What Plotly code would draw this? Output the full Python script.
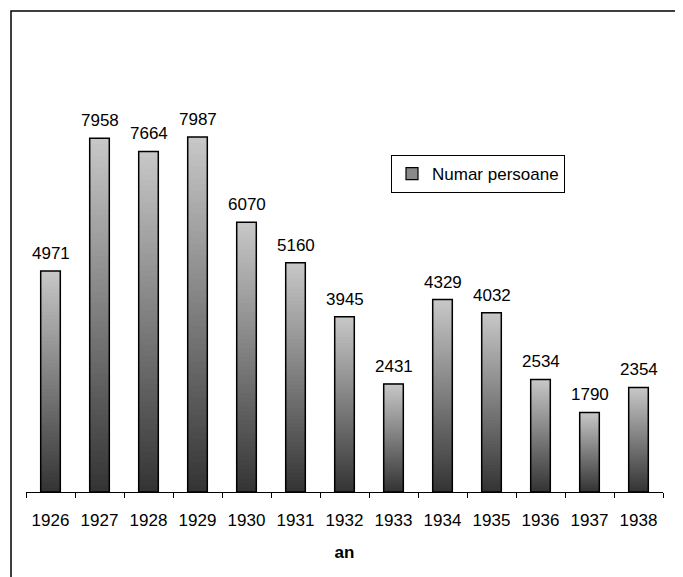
import plotly.graph_objects as go

years = ["1926", "1927", "1928", "1929", "1930", "1931", "1932",
         "1933", "1934", "1935", "1936", "1937", "1938"]
persons = [4971, 7958, 7664, 7987, 6070, 5160, 3945,
           2431, 4329, 4032, 2534, 1790, 2354]
series_name = "Numar persoane"
axis_title = "an"

FONT = "Liberation Sans, Arial, sans-serif"
FS = 17
# page body has an 8px margin; figure sized to fit the window
W, H = 675, 569
L, R, T, B = 18, 20, 84, 85

fig = go.Figure()

# vertical gradient via overlapping slices (dark bottom -> light top)
N = 60
dark, light = (0x33, 0x33, 0x33), (0xC8, 0xC8, 0xC8)
for k in range(N):
    f = (k + 0.5) / N
    c = tuple(int(round(dark[i] + (light[i] - dark[i]) * f)) for i in range(3))
    fig.add_trace(go.Bar(
        x=years,
        y=[v * (1 - k / N) for v in persons],
        base=[v * k / N for v in persons],
        marker=dict(color="rgb(%d,%d,%d)" % c, line=dict(width=0)),
        showlegend=False, hoverinfo="skip", width=0.4,
    ))

# outline
fig.add_trace(go.Bar(
    x=years, y=persons,
    marker=dict(color="rgba(0,0,0,0)", line=dict(color="black", width=1.5)),
    showlegend=False, width=0.4,
))

# legend entry
fig.add_trace(go.Bar(
    x=[years[0]], y=[None], name=series_name,
    marker=dict(color="#8a8a8a", line=dict(color="black", width=1.2)),
    showlegend=True,
))

for i, v in enumerate(persons):
    fig.add_annotation(x=i, y=v, text=str(v), showarrow=False,
                       yanchor="bottom", yshift=6,
                       font=dict(family=FONT, size=FS, color="black"))

pw = W - L - R
ph = H - T - B
fig.add_shape(type="rect", xref="paper", yref="paper",
              x0=(3 - L) / pw, x1=(W + 20 - L) / pw,
              y0=-(H + 20 - (T + ph)) / ph, y1=(T + ph - 3) / ph,
              line=dict(color="black", width=1.5), layer="above")

fig.update_layout(
    width=W, height=H,
    margin=dict(l=L, r=R, t=T, b=B, pad=0),
    paper_bgcolor="white", plot_bgcolor="white",
    barmode="overlay", bargap=0.6,
    font=dict(family=FONT, size=FS, color="black"),
    showlegend=True,
    legend=dict(x=(383 - L) / pw, y=(T + ph - 147) / ph,
                xanchor="left", yanchor="top",
                bordercolor="black", borderwidth=1, bgcolor="white",
                font=dict(family=FONT, size=FS, color="black"),
                itemwidth=30, tracegroupgap=0),
    xaxis=dict(type="category", range=[-0.5, len(years) - 0.5],
               showline=True, linecolor="black", linewidth=1,
               ticks="outside", ticklen=5, tickcolor="black", tickson="boundaries",
               showgrid=False, zeroline=False, tickangle=0,
               ticklabelstandoff=13,
               tickfont=dict(family=FONT, size=FS, color="black"),
               title=dict(text="<b>" + axis_title + "</b>", standoff=16,
                          font=dict(family=FONT, size=FS, color="black"))),
    yaxis=dict(range=[0, 9000], visible=False, showgrid=False, zeroline=False),
)

fig.write_html("out.html")
